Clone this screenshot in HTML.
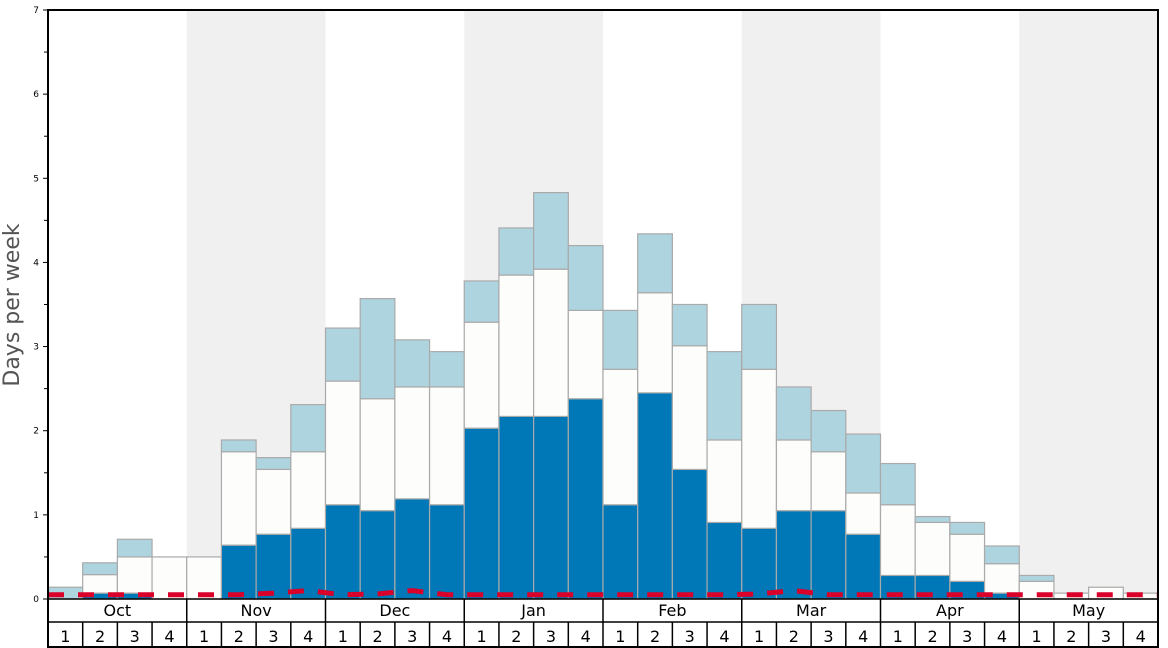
<!DOCTYPE html>
<html><head><meta charset="utf-8"><style>
body{margin:0;background:#fff;}
svg{display:block;font-family:"DejaVu Sans","Liberation Sans",sans-serif;}
</style></head><body>
<svg id="chart" width="1168" height="648">
<g id="bands"></g><g id="bars"></g><g id="line"></g><g id="axes"></g>
</svg>
<script>
const months=["Oct","Nov","Dec","Jan","Feb","Mar","Apr","May"];
const weekLabels=["1","2","3","4"];
const darkVals=[0,0.07,0.07,0,0,0.64,0.77,0.84,1.12,1.05,1.19,1.12,2.03,2.17,2.17,2.38,1.12,2.45,1.54,0.91,0.84,1.05,1.05,0.77,0.28,0.28,0.21,0.07,0,0,0,0];
const whiteVals=[0,0.29,0.5,0.5,0.5,1.75,1.54,1.75,2.59,2.38,2.52,2.52,3.29,3.85,3.92,3.43,2.73,3.64,3.01,1.89,2.73,1.89,1.75,1.26,1.12,0.91,0.77,0.42,0.21,0.07,0.14,0.07];
const totalVals=[0.14,0.43,0.71,0.5,0.5,1.89,1.68,2.31,3.22,3.57,3.08,2.94,3.78,4.41,4.83,4.2,3.43,4.34,3.5,2.94,3.5,2.52,2.24,1.96,1.61,0.98,0.91,0.63,0.28,0.07,0.14,0.07];
const lineVals=[0.05,0.05,0.05,0.05,0.05,0.05,0.07,0.1,0.05,0.06,0.1,0.05,0.05,0.05,0.05,0.05,0.05,0.05,0.05,0.05,0.06,0.1,0.05,0.05,0.05,0.05,0.05,0.05,0.05,0.05,0.05,0.05];
const yTicks=[0,1,2,3,4,5,6,7];
const NS="http://www.w3.org/2000/svg";
const X0=48,X1=1158,Y0=599,Y1=10,YMAX=7;
const N=darkVals.length, bw=(X1-X0)/N;
const x=i=>X0+i*bw;
const y=v=>Y0-(v/YMAX)*(Y0-Y1);
function mk(tag,parent,attrs){const e=document.createElementNS(NS,tag);for(const k in attrs)e.setAttribute(k,attrs[k]);document.getElementById(parent).appendChild(e);return e;}
// month bands
months.forEach((m,j)=>{
 const r=mk('rect','bands',{x:x(j*4),y:Y1,width:bw*4,height:Y0-Y1,fill:j%2?'#f0f0f0':'#fff'});
 
 
});
// bars
for(let i=0;i<N;i++){
 const segs=[[0,darkVals[i],'#0077b6'],[darkVals[i],whiteVals[i],'#fdfdfb'],[whiteVals[i],totalVals[i],'#aed4e0']];
 segs.forEach((s,k)=>{
  if(s[1]-s[0]<=0)return;
  const r=mk('rect','bars',{x:x(i),y:y(s[1]),width:bw,height:y(s[0])-y(s[1]),fill:s[2],stroke:'#aaa','stroke-width':1.2});
  
  
 });
}
// red dashed line
let d='';
lineVals.forEach((v,i)=>{d+=(i?'L':'M')+(i===0?X0:x(i)+bw/2)+','+y(v);});
d+='L'+X1+','+y(lineVals[N-1]);
const pl=mk('path','line',{d:d,fill:'none',stroke:'#d9002a','stroke-width':5,'stroke-dasharray':'16,14'});


// axes
const fr=mk('rect','axes',{x:X0,y:Y1,width:X1-X0,height:647-Y1,fill:'none',stroke:'#000','stroke-width':2});


mk('line','axes',{x1:X0,x2:X1,y1:Y0,y2:Y0,stroke:'#000','stroke-width':1.5});
mk('line','axes',{x1:X0,x2:X1,y1:622,y2:622,stroke:'#000','stroke-width':1.5});
yTicks.forEach(t=>{
 mk('line','axes',{x1:X0-5,x2:X0,y1:y(t),y2:y(t),stroke:'#000'});
 if(t<7)mk('line','axes',{x1:X0-4,x2:X0,y1:y(t+0.5),y2:y(t+0.5),stroke:'#000'});
 const tx=mk('text','axes',{x:X0-9,y:y(t)+3,'font-size':9,'text-anchor':'end'});
 tx.textContent=t;
 
 
});
months.forEach((m,j)=>{
 if(j>0)mk('line','axes',{x1:x(j*4),x2:x(j*4),y1:Y0,y2:622,stroke:'#000','stroke-width':1.5});
 const t=mk('text','axes',{x:x(j*4)+bw*2,y:616,'font-size':16,'text-anchor':'middle'});
 t.textContent=m;
 
 
 weekLabels.forEach((w,k)=>{
  const i=j*4+k;
  if(i>0)mk('line','axes',{x1:x(i),x2:x(i),y1:622,y2:647,stroke:'#000','stroke-width':1.5});
  const tw=mk('text','axes',{x:x(i)+bw/2,y:642,'font-size':16,'text-anchor':'middle'});
  tw.textContent=w;
  
  
 });
});
const yt=mk('text','axes',{x:0,y:0,'font-size':22,'text-anchor':'middle',fill:'#555',transform:'translate(19,305) rotate(-90)'});
yt.textContent='Days per week';


</script>
</body></html>
